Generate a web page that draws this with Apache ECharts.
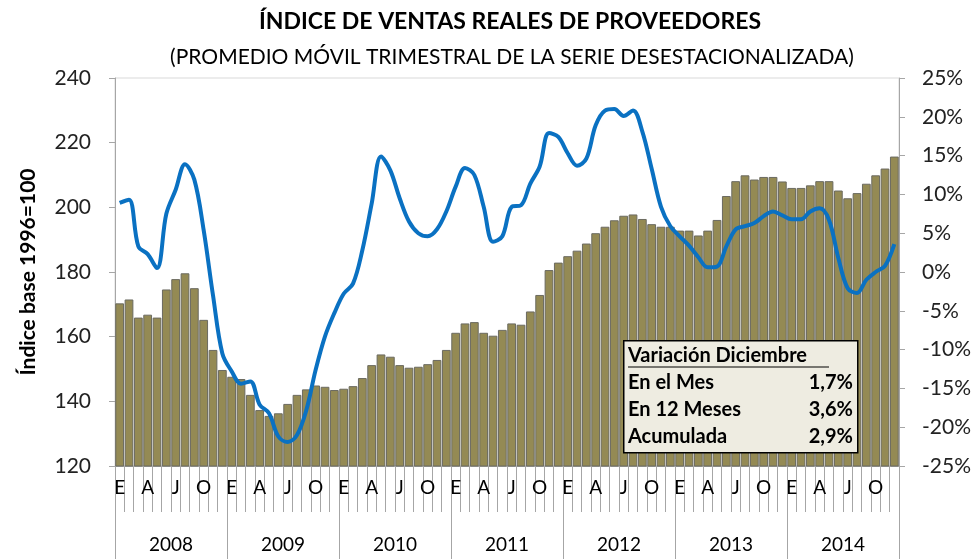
<!DOCTYPE html>
<html>
<head>
<meta charset="utf-8">
<script src="https://cdn.jsdelivr.net/npm/echarts@6/dist/echarts.min.js"></script>
<style>
  html, body { margin: 0; padding: 0; background: #fff; }
  #chart { width: 974px; height: 559px; }
</style>
</head>
<body>
<div id="chart"></div>
<script>
// Índice de ventas reales de proveedores, 2008-2014

const FONT = "Lato, 'Open Sans', sans-serif";

const years = ["2008", "2009", "2010", "2011", "2012", "2013", "2014"];
const monthLetters = ["E", "F", "M", "A", "M", "J", "J", "A", "S", "O", "N", "D"];

// índice (eje izquierdo), promedio móvil trimestral
const indexValues = [
    170.3, 171.5, 165.9, 166.8, 165.9, 174.6, 177.8, 179.6, 175.0, 165.2, 155.9, 149.7,
    147.6, 146.9, 142.0, 137.3, 135.5, 136.3, 139.2, 142.0, 143.7, 144.9, 144.5, 143.5,
    143.9, 144.7, 147.2, 151.2, 154.5, 153.8, 151.2, 150.4, 150.7, 151.5, 152.8, 155.9,
    161.2, 164.1, 164.5, 161.2, 160.3, 162.1, 164.1, 163.7, 167.8, 172.9, 180.6, 182.9,
    184.9, 186.6, 188.8, 192.0, 194.0, 196.0, 197.4, 197.8, 196.4, 194.8, 194.0, 194.0,
    192.8, 192.8, 191.3, 192.8, 196.1, 203.5, 208.1, 209.9, 208.6, 209.4, 209.4, 208.0,
    206.0, 206.0, 206.8, 208.1, 208.1, 205.2, 202.8, 204.4, 207.3, 209.9, 212.0, 215.7
];

// variación en 12 meses, % (eje derecho)
const yoyValues = [
    8.9, 9.3, 3.3, 2.3, 0.5, 7.5, 10.6, 13.9, 11.9, 5.4, -3.0, -10.5,
    -12.8, -14.4, -14.1, -17.1, -18.2, -21.2, -21.9, -21.0, -17.8, -12.6, -8.3, -5.3,
    -2.8, -1.5, 2.8, 8.8, 14.9, 13.1, 9.5, 6.5, 5.0, 4.6, 5.5, 7.8,
    11.0, 13.4, 12.5, 8.4, 3.9, 4.6, 8.4, 8.6, 11.4, 13.6, 17.9, 17.4,
    15.3, 13.7, 14.6, 18.9, 20.8, 21.0, 20.1, 20.8, 18.1, 13.3, 8.4, 5.9,
    4.6, 3.4, 1.9, 0.6, 0.7, 3.3, 5.5, 5.9, 6.3, 7.2, 7.8, 7.3,
    6.8, 6.8, 7.8, 8.2, 6.7, 1.8, -2.1, -2.7, -1.0, 0.0, 0.8, 3.6
];

const boxRows = [
    ["En el Mes", "1,7%"],
    ["En 12 Meses", "3,6%"],
    ["Acumulada", "2,9%"]
];

const months = [];
years.forEach((y) => monthLetters.forEach((m) => months.push(m)));

const chart = echarts.init(document.getElementById("chart"));

const boxLeft = 623, boxTop = 340, boxW = 234, boxH = 112;

const boxGraphic = [
    {
        type: "rect",
        left: boxLeft, top: boxTop,
        shape: { width: boxW, height: boxH },
        style: { fill: "#EEECE1", stroke: "#000", lineWidth: 1.5 },
        z: 100
    },
    {
        type: "text",
        left: boxLeft + 5, top: boxTop + 6,
        style: { text: "Variación Diciembre", fill: "#000", font: `bold 20px ${FONT}` },
        z: 101
    },
    {
        type: "line",
        shape: { x1: boxLeft + 5, y1: boxTop + 27, x2: boxLeft + 206, y2: boxTop + 27 },
        style: { stroke: "#000", lineWidth: 1.2 },
        z: 101
    }
];
boxRows.forEach(([label, val], i) => {
    boxGraphic.push({
        type: "text",
        left: boxLeft + 5, top: boxTop + 33 + i * 27,
        style: { text: label, fill: "#000", font: `bold 20px ${FONT}` },
        z: 101
    });
    boxGraphic.push({
        type: "text",
        right: 974 - (boxLeft + boxW - 4), top: boxTop + 33 + i * 27,
        style: { text: val, fill: "#000", font: `bold 20px ${FONT}` },
        z: 101
    });
});

chart.setOption({
    backgroundColor: "#fff",
    animation: false,
    title: [
        {
            text: "ÍNDICE DE VENTAS REALES DE PROVEEDORES",
            left: 505, top: 5, textAlign: "center",
            textStyle: { fontFamily: FONT, fontSize: 23, fontWeight: "bold", color: "#000" }
        },
        {
            text: "(PROMEDIO MÓVIL TRIMESTRAL DE LA SERIE DESESTACIONALIZADA)",
            left: 507, top: 42, textAlign: "center",
            textStyle: { fontFamily: FONT, fontSize: 21, fontWeight: "normal", color: "#000" }
        }
    ],
    grid: {
        left: 115, right: 74, top: 78, bottom: 93,
        show: true, borderColor: "#d9d9d9", borderWidth: 1, backgroundColor: "transparent"
    },
    xAxis: [
        {
            type: "category",
            data: months,
            axisLine: { onZero: false, lineStyle: { color: "#a6a6a6" } },
            axisTick: { show: true, interval: 0, length: 46, lineStyle: { color: "#a6a6a6" } },
            axisLabel: {
                interval: 2, margin: 12,
                color: "#000", fontFamily: FONT, fontSize: 19
            }
        },
        {
            type: "category",
            data: years,
            position: "bottom",
            axisLine: { show: false, onZero: false },
            axisTick: { show: true, interval: 0, length: 100, lineStyle: { color: "#a6a6a6" } },
            axisLabel: { margin: 69, color: "#000", fontFamily: FONT, fontSize: 19 }
        }
    ],
    yAxis: [
        {
            type: "value",
            min: 120, max: 240, interval: 20,
            name: "Índice base 1996=100",
            nameLocation: "middle",
            nameGap: 76,
            nameTextStyle: { fontFamily: FONT, fontSize: 21, fontWeight: "bold", color: "#000" },
            splitLine: { show: false },
            axisLine: { show: true, lineStyle: { color: "#a6a6a6" } },
            axisTick: { show: true, length: 6, lineStyle: { color: "#a6a6a6" } },
            axisLabel: { margin: 24, color: "#222", fontFamily: FONT, fontSize: 21 }
        },
        {
            type: "value",
            min: -25, max: 25, interval: 5,
            position: "right",
            splitLine: { show: false },
            axisLine: { show: true, lineStyle: { color: "#a6a6a6" } },
            axisTick: { show: true, length: 6, lineStyle: { color: "#a6a6a6" } },
            axisLabel: { margin: 23, formatter: "{value}%", color: "#222", fontFamily: FONT, fontSize: 21 }
        }
    ],
    series: [
        {
            name: "Índice",
            type: "bar",
            xAxisIndex: 0,
            yAxisIndex: 0,
            data: indexValues,
            barCategoryGap: "6%",
            itemStyle: { color: "#948A54", borderColor: "#6b6a60", borderWidth: 1 }
        },
        {
            name: "Variación 12 meses",
            type: "line",
            xAxisIndex: 0,
            yAxisIndex: 1,
            data: yoyValues,
            smooth: 0.35,
            symbol: "none",
            lineStyle: { color: "#0A71C2", width: 4 },
            z: 5
        }
    ],
    graphic: boxGraphic
});
</script>
</body>
</html>
